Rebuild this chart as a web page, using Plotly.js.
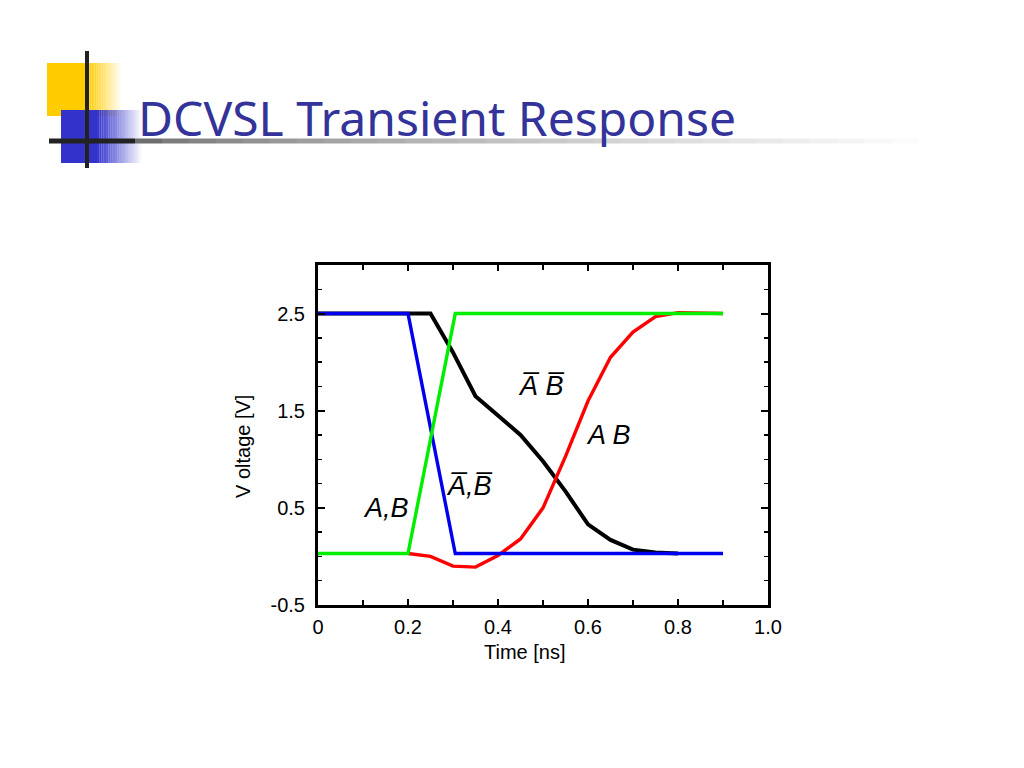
<!DOCTYPE html>
<html><head><meta charset="utf-8">
<script src="https://cdn.plot.ly/plotly-3.0.1.min.js"></script>
<style>html,body{margin:0;padding:0;background:#fff}#c{width:1024px;height:768px}</style>
</head><body><div id="c"></div>
<script>
// Data (time in ns, voltage in V)
const tBlue = [0, 0.2, 0.305, 0.9];
const vBlue = [2.5, 2.5, 0.03, 0.03];
const tGreen = [0, 0.2, 0.305, 0.9];
const vGreen = [0.03, 0.03, 2.5, 2.5];
const tBlack = [0, 0.25, 0.3, 0.35, 0.4, 0.45, 0.5, 0.55, 0.6, 0.65, 0.7, 0.75, 0.8];
const vBlack = [2.5, 2.5, 2.1, 1.65, 1.45, 1.25, 0.98, 0.67, 0.33, 0.17, 0.07, 0.04, 0.03];
const tRed = [0.2, 0.25, 0.3, 0.35, 0.4, 0.45, 0.5, 0.55, 0.6, 0.65, 0.7, 0.75, 0.8, 0.9];
const vRed = [0.03, 0.0, -0.1, -0.11, 0.01, 0.18, 0.5, 1.03, 1.6, 2.05, 2.31, 2.47, 2.51, 2.5];
const xTickVals = [0, 0.2, 0.4, 0.6, 0.8, 1.0];
const xTickText = ['0', '0.2', '0.4', '0.6', '0.8', '1.0'];
const yTickVals = [-0.5, 0.5, 1.5, 2.5];
const yTickText = ['-0.5', '0.5', '1.5', '2.5'];

const L = 318, R = 768, T = 265, B = 605;
const px = x => (x - L) / (R - L);
const py = y => (B - y) / (B - T);

const shapes = [];
function gradRect(x0, x1, solidTo, y0, y1, color, n) {
  shapes.push({type:'rect', xref:'paper', yref:'paper', x0:px(x0), x1:px(solidTo), y0:py(y1), y1:py(y0), fillcolor:color, line:{width:0}, layer:'above'});
  const w = (x1 - solidTo) / n;
  for (let i = 0; i < n; i++) {
    shapes.push({type:'rect', xref:'paper', yref:'paper', x0:px(solidTo + i*w), x1:px(solidTo + (i+1)*w), y0:py(y1), y1:py(y0), fillcolor:color, opacity: 1 - (i+0.5)/n, line:{width:0}, layer:'above'});
  }
}
gradRect(47, 122, 88, 63, 116, '#ffcc00', 20);
gradRect(61, 142, 97, 110, 163, '#3333cc', 20);
// horizontal line fading
shapes.push({type:'line', xref:'paper', yref:'paper', x0:px(49), x1:px(135), y0:py(141), y1:py(141), line:{color:'#222', width:5}, layer:'above'});
const nH = 30;
for (let i = 0; i < nH; i++) {
  const a = 135 + i*27, b = a + 27;
  const g = Math.round(110 + 145 * Math.pow(i/(nH-1), 0.7));
  shapes.push({type:'line', xref:'paper', yref:'paper', x0:px(a), x1:px(b), y0:py(141), y1:py(141), line:{color:'rgb('+g+','+g+','+g+')', width:5}, layer:'above'});
}
shapes.push({type:'line', xref:'paper', yref:'paper', x0:px(87), x1:px(87), y0:py(51), y1:py(168), line:{color:'#222', width:4}, layer:'above'});

const traces = [
  {x:tBlack, y:vBlack, mode:'lines', line:{color:'#000000', width:4}},
  {x:tRed, y:vRed, mode:'lines', line:{color:'#ff0000', width:3.4}},
  {x:tBlue, y:vBlue, mode:'lines', line:{color:'#0000ee', width:3.4}},
  {x:tGreen, y:vGreen, mode:'lines', line:{color:'#00ee00', width:3.4}}
];

const ff = 'Liberation Sans, Arial, sans-serif';
const afont = {family:ff, size:27, color:'#000'};
const tfont = {family:ff, size:20, color:'#000'};
const layout = {
  width:1024, height:768,
  margin:{l:L, r:1024-R, t:T, b:768-B},
  paper_bgcolor:'#fff', plot_bgcolor:'#fff',
  showlegend:false,
  title:{text:'DCVSL Transient Response', x:138/1024, xref:'container', xanchor:'left', y:1-119/768, yref:'container', yanchor:'middle', font:{family:'Noto Sans, DejaVu Sans, sans-serif', size:48, color:'#333399'}},
  xaxis:{range:[0,1.0], tickvals:xTickVals, ticktext:xTickText, showline:true, mirror:'allticks', linewidth:3, linecolor:'#000', ticks:'inside', ticklen:6, tickwidth:2, tickcolor:'#000', showgrid:false, zeroline:false,
    minor:{dtick:0.1, ticks:'inside', ticklen:5, tickwidth:2, tickcolor:'#000'},
    ticklabelstandoff:2,
    tickfont:tfont},
  yaxis:{range:[-0.5,3.0], tickvals:yTickVals, ticktext:yTickText, showline:true, mirror:'allticks', linewidth:3, linecolor:'#000', ticks:'inside', ticklen:7, tickwidth:2, tickcolor:'#000', showgrid:false, zeroline:false,
    minor:{dtick:0.25, ticks:'inside', ticklen:4, tickwidth:1.5, tickcolor:'#000'},
    ticklabelstandoff:6,
    tickfont:tfont},
  shapes: shapes,
  annotations:[
    {x:px(525), y:py(652), xref:'paper', yref:'paper', text:'Time [ns]', showarrow:false, font:tfont, xanchor:'center', yanchor:'middle'},
    {x:px(243), y:py(447), xref:'paper', yref:'paper', text:'V oltage [V]', textangle:-90, showarrow:false, font:tfont, xanchor:'center', yanchor:'middle'},
    {x:0.44, y:1.75, xref:'x', yref:'y', text:'<i>A\u0305 B\u0305</i>', showarrow:false, font:afont, xanchor:'left'},
    {x:0.28, y:0.73, xref:'x', yref:'y', text:'<i>A\u0305,B\u0305</i>', showarrow:false, font:afont, xanchor:'left'},
    {x:0.095, y:0.5, xref:'x', yref:'y', text:'<i>A,B</i>', showarrow:false, font:afont, xanchor:'left'},
    {x:0.59, y:1.25, xref:'x', yref:'y', text:'<i>A B</i>', showarrow:false, font:afont, xanchor:'left'}
  ]
};
Plotly.newPlot('c', traces, layout, {displayModeBar:false, staticPlot:true});
</script></body></html>
